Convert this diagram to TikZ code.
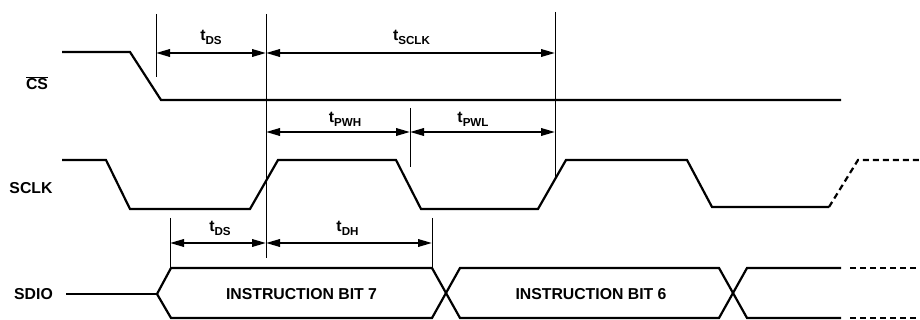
\documentclass[tikz,border=0pt]{standalone}
\usepackage{fontspec}
\setmainfont{Liberation Sans}
\usetikzlibrary{arrows.meta}
\newcommand{\tlab}[1]{t\raisebox{-3.6pt}{\fontsize{11.6}{12}\selectfont #1}}
\begin{document}
\begin{tikzpicture}[x=1pt,y=-1pt,
  sig/.style={line width=2.2pt,line join=miter},
  sigdash/.style={line width=2.2pt,dash pattern=on 6pt off 4pt},
  guide/.style={line width=0.9pt},
  dim/.style={line width=2pt,{Triangle[length=14pt,width=7.5pt]}-{Triangle[length=14pt,width=7.5pt]}},
  lbl/.style={font=\fontsize{15.8}{18}\selectfont\bfseries,inner sep=0pt},
  tl/.style={font=\fontsize{15.8}{18}\selectfont\bfseries,inner sep=0pt,anchor=base}]
\useasboundingbox (0,0) rectangle (920,320);

% signal names
\node[lbl] (cs) at (37,83) {$\overline{\mbox{CS}}$};
\node[lbl] (sclk) at (31,188) {SCLK};
\node[lbl] (sdio) at (33.5,294) {SDIO};

% CS
\draw[sig] (62,52) -- (130,52) -- (161,100) -- (841,100);

% SCLK
\draw[sig] (62,160) -- (106,160) -- (130,209) -- (250,209) -- (278,160) -- (396,160)
  -- (421,209) -- (538,209) -- (566,160) -- (687,160) -- (712,207) -- (829,207);
\draw[sigdash] (829,207) -- (858,160) -- (920,160);

% SDIO
\draw[sig] (66,294) -- (157,294);
\draw[sig] (157,294) -- (171,268) -- (432,268) -- (460,318) -- (719,318) -- (747,268) -- (841,268);
\draw[sig] (157,294) -- (171,318) -- (432,318) -- (460,268) -- (719,268) -- (747,318) -- (841,318);
\draw[sigdash] (850,268) -- (920,268);
\draw[sigdash] (850,318) -- (920,318);
\node[lbl] (b7) at (301.5,294) {INSTRUCTION BIT 7};
\node[lbl] (b6) at (591,294) {INSTRUCTION BIT 6};

% guide lines
\coordinate (g1a) at (156,14);  \coordinate (g1b) at (156,77);
\coordinate (g2a) at (266,14);  \coordinate (g2b) at (266,258);
\coordinate (g3a) at (410,108); \coordinate (g3b) at (410,167);
\coordinate (g4a) at (555,12);  \coordinate (g4b) at (555,177);
\coordinate (g5a) at (170,218); \coordinate (g5b) at (170,267);
\coordinate (g6a) at (432,218); \coordinate (g6b) at (432,267);
\foreach \g in {1,...,6} {\draw[guide] (g\g a) -- (g\g b);}

% dimension arrows
\coordinate (dA) at (156,53);  \coordinate (dB) at (266,53); \coordinate (dC) at (555,53);
\coordinate (pA) at (266,132); \coordinate (pB) at (410,132); \coordinate (pC) at (555,132);
\coordinate (hA) at (170,243); \coordinate (hB) at (266,243); \coordinate (hC) at (432,243);
\draw[dim] (dA) -- (dB);
\draw[dim] (dB) -- (dC);
\draw[dim] (pA) -- (pB);
\draw[dim] (pB) -- (pC);
\draw[dim] (hA) -- (hB);
\draw[dim] (hB) -- (hC);

\node[tl] (tds1) at (211,41) {\tlab{DS}};
\node[tl] (tsclk) at (411.5,41) {\tlab{SCLK}};
\node[tl] (tpwh) at (345,122.5) {\tlab{PWH}};
\node[tl] (tpwl) at (473,122.5) {\tlab{PWL}};
\node[tl] (tds2) at (220,232) {\tlab{DS}};
\node[tl] (tdh) at (347.5,232) {\tlab{DH}};
\end{tikzpicture}
\end{document}
